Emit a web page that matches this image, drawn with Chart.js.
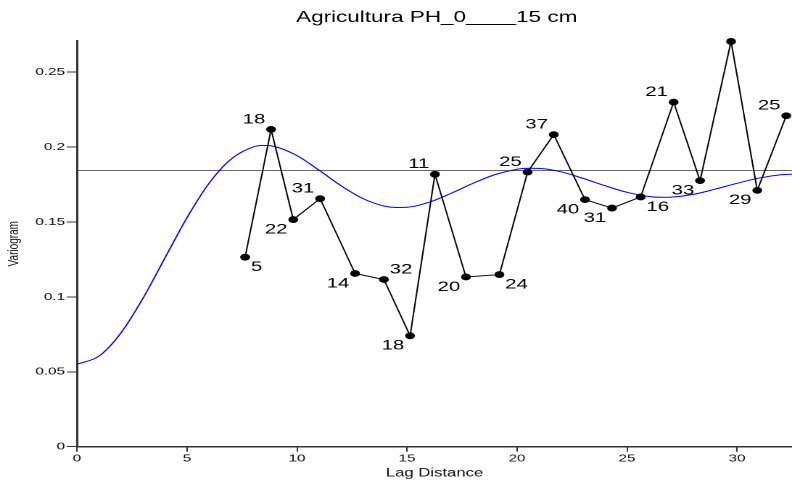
<!DOCTYPE html>
<html>
<head>
<meta charset="utf-8">
<title>Agricultura PH_0____15 cm</title>
<script src="https://cdn.jsdelivr.net/npm/chart.js@4.4.1/dist/chart.umd.min.js"></script>
<style>
  html, body { margin: 0; padding: 0; background: #fff; overflow: hidden; }
  /* the chart is laid out on a narrower canvas and shown widened */
  #chart { display: block; width: 792px !important; height: 483px !important; }
</style>
</head>
<body>
<canvas id="chart" width="546" height="483"></canvas>
<script>
// Experimental semivariogram: lag distance, semivariance, number of pairs
const lagDistance  = [7.64, 8.82, 9.83, 11.05, 12.64, 13.95, 15.14, 16.27, 17.68, 19.20,
                      20.48, 21.67, 23.09, 24.32, 25.62, 27.12, 28.32, 29.73, 30.92, 32.24];
const semivariance = [0.1265, 0.2118, 0.1516, 0.1656, 0.1156, 0.1116, 0.0740, 0.1818, 0.1133, 0.1149,
                      0.1833, 0.2083, 0.1649, 0.1593, 0.1667, 0.2300, 0.1776, 0.2705, 0.1711, 0.2209];
const pairCounts   = [5, 18, 22, 31, 14, 32, 18, 11, 20, 24,
                      25, 37, 40, 31, 16, 21, 33, null, 29, 25];

// Fitted model (hole effect) sampled along the lag axis
const modelLag   = [0, 1, 2, 3, 4, 5, 6, 7, 8, 8.5, 9, 10, 11, 12, 13, 14, 14.5, 15, 16, 17, 18,
                    19, 20, 20.5, 21, 22, 23, 24, 25, 26, 26.5, 27, 28, 29, 30, 31, 32, 32.5];
const modelGamma = [0.0550, 0.0605, 0.0760, 0.0991, 0.1261, 0.1529, 0.1758, 0.1919, 0.2000, 0.2011,
                    0.2003, 0.1943, 0.1846, 0.1742, 0.1656, 0.1605, 0.1597, 0.1598, 0.1631, 0.1691,
                    0.1758, 0.1816, 0.1852, 0.1859, 0.1858, 0.1835, 0.1791, 0.1742, 0.1698, 0.1670,
                    0.1665, 0.1666, 0.1684, 0.1719, 0.1758, 0.1793, 0.1815, 0.1819];

// Sample variance line
const sillLag      = [0, 32.5];
const sillVariance = [0.1843, 0.1843];

// Axis ticks
const xTicks = [0, 5, 10, 15, 20, 25, 30];
const yTicks = [0, 0.05, 0.1, 0.15, 0.2, 0.25];

// Where each pair-count label sits around its point (u/l = above/below, l/r = left/right)
const labelSide = ['lr', 'ul', 'll', 'ul', 'll', 'ur', 'll', 'ul', 'll', 'lr',
                   'ul', 'ul', 'll', 'll', 'lr', 'ul', 'll', null, 'll', 'ul'];

const FONT = '"Liberation Sans", Arial, Helvetica, sans-serif';
const toXY = (xs, ys) => xs.map((x, i) => ({ x, y: ys[i] }));

const titlePlugin = {
  id: 'centeredTitle',
  afterDraw(chart) {
    const { ctx, chartArea } = chart;
    ctx.save();
    ctx.font = '15.5px ' + FONT;
    ctx.fillStyle = '#000';
    ctx.textAlign = 'center';
    ctx.textBaseline = 'alphabetic';
    ctx.fillText('Agricultura PH_0____15 cm', (chartArea.left + chartArea.right) / 2 + 1.5, 22);
    ctx.restore();
  }
};

const pairLabelPlugin = {
  id: 'pairLabels',
  afterDatasetsDraw(chart) {
    const meta = chart.getDatasetMeta(0);
    const { ctx } = chart;
    ctx.save();
    ctx.font = '14px ' + FONT;
    ctx.fillStyle = '#000';
    ctx.textBaseline = 'middle';
    meta.data.forEach((pt, i) => {
      const side = labelSide[i];
      if (pairCounts[i] == null || !side) return;
      const above = side[0] === 'u';
      const left = side[1] === 'l';
      ctx.textAlign = left ? 'right' : 'left';
      ctx.fillText(String(pairCounts[i]), pt.x + (left ? -4 : 4), pt.y + (above ? -10 : 10));
    });
    ctx.restore();
  }
};

const axisColor = '#333';

new Chart(document.getElementById('chart'), {
  type: 'scatter',
  data: {
    datasets: [
      {
        label: 'Experimental',
        data: toXY(lagDistance, semivariance),
        showLine: true,
        borderColor: '#000',
        borderWidth: 1,
        pointRadius: 3.4,
        pointBorderWidth: 0,
        pointBackgroundColor: '#000',
        tension: 0,
        clip: false,
        order: 0
      },
      {
        label: 'Model',
        data: toXY(modelLag, modelGamma),
        showLine: true,
        borderColor: '#0000ff',
        borderWidth: 1,
        pointRadius: 0,
        cubicInterpolationMode: 'monotone',
        order: 1
      },
      {
        label: 'Variance',
        data: toXY(sillLag, sillVariance),
        showLine: true,
        borderColor: '#333',
        borderWidth: 0.8,
        pointRadius: 0,
        order: 2
      }
    ]
  },
  options: {
    responsive: false,
    animation: false,
    devicePixelRatio: 2,
    layout: { autoPadding: false, padding: { top: 40.7, right: 0, bottom: 0, left: 0 } },
    plugins: {
      legend: { display: false },
      title: { display: false },
      tooltip: { enabled: false }
    },
    scales: {
      x: {
        type: 'linear',
        min: 0,
        max: 32.5,
        afterBuildTicks: s => { s.ticks = xTicks.map(v => ({ value: v })); },
        afterFit: s => { s.height = 36.3; s.paddingLeft = 0; s.paddingRight = 0; },
        grid: { drawOnChartArea: false, drawTicks: true, tickLength: 5, color: axisColor, lineWidth: 1 },
        border: { display: true, color: axisColor, width: 1.5 },
        ticks: {
          padding: 0.5,
          color: '#111',
          font: { family: FONT, size: 10.5 },
          maxRotation: 0,
          callback: v => String(v)
        },
        title: {
          display: true,
          text: 'Lag Distance',
          color: '#111',
          font: { family: FONT, size: 11.5 },
          padding: { top: 0, bottom: 2.6 }
        }
      },
      y: {
        type: 'linear',
        min: 0,
        max: 0.271,
        afterBuildTicks: s => { s.ticks = yTicks.map(v => ({ value: v })); },
        afterFit: s => { s.width = 53.1; },
        grid: { drawOnChartArea: false, drawTicks: true, tickLength: 7, color: axisColor, lineWidth: 1 },
        border: { display: true, color: axisColor, width: 1.5 },
        ticks: {
          padding: 1.3,
          color: '#111',
          font: { family: FONT, size: 10.5 },
          callback: v => String(v)
        },
        title: {
          display: true,
          text: 'Variogram',
          color: '#111',
          font: { family: FONT, size: 10 },
          padding: { top: 3.6, bottom: 0 }
        }
      }
    }
  },
  plugins: [titlePlugin, pairLabelPlugin]
});
</script>
</body>
</html>
